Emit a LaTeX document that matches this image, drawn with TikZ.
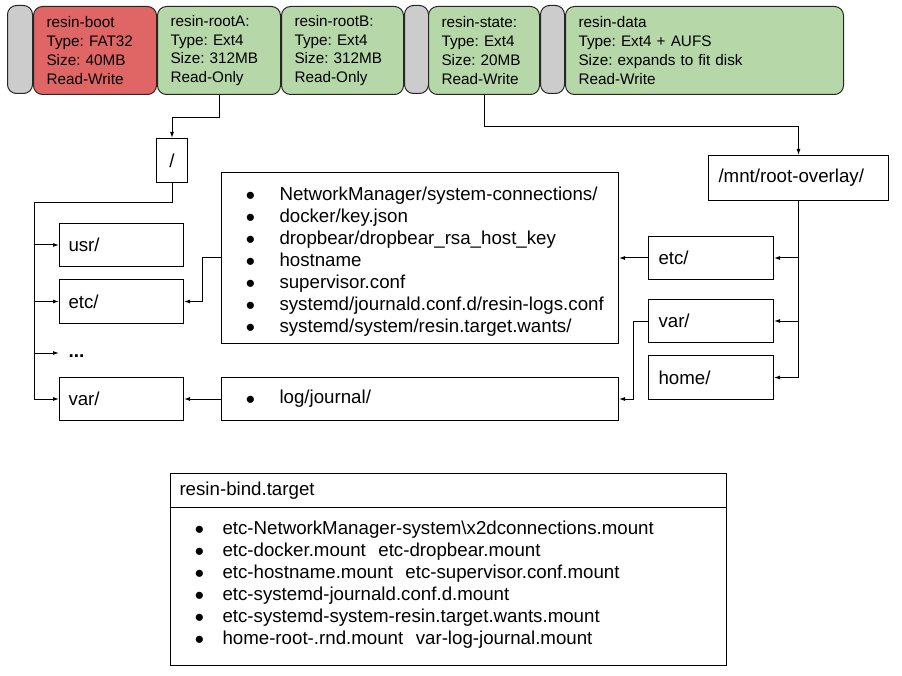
\documentclass[tikz,border=0pt]{standalone}
\usepackage{fontspec}
\setmainfont{Liberation Sans}
\usepackage{tikz}
\usetikzlibrary{arrows.meta}
\definecolor{bootred}{HTML}{E06666}
\definecolor{partgreen}{HTML}{B6D7A8}
\definecolor{gapgray}{HTML}{CCCCCC}
\frenchspacing
\newcommand{\partfont}{\fontsize{15.3pt}{18.8pt}\selectfont}
\newcommand{\dirfont}{\fontsize{18.7pt}{22pt}\selectfont}
\newcommand{\bul}[1]{\hspace*{24.4pt}\makebox[#1][l]{\raisebox{-4.5pt}[0pt][0pt]{\scalebox{1.4}{\textbullet}}}}

\begin{document}
\begin{tikzpicture}[x=1pt, y=-1pt, >={Latex[length=6pt,width=4pt]}, line width=1pt,
  part/.style={draw=black!85, rounded corners=9pt, anchor=north west, minimum height=88pt,
    inner xsep=13pt, inner ysep=0pt, align=left, font=\partfont},
  gap/.style={part, fill=gapgray, inner sep=0pt},
  dirbox/.style={draw, anchor=north west, inner xsep=9pt, inner ysep=0pt, align=left, font=\dirfont},
  listbox/.style={dirbox, inner xsep=0pt}]

  \useasboundingbox (0,0) rectangle (902,676);

  % Particoes
  \node[gap, minimum width=25pt] (gapA) at (7,5) {};
  \node[part, fill=bootred, text width=97pt] (boot) at (33,6) {resin-boot\\Type: FAT32\\Size: 40MB\\Read-Write};
  \node[part, fill=partgreen, text width=97pt] (rootA) at (157,6) {resin-rootA:\\Type: Ext4\\Size: 312MB\\Read-Only};
  \node[part, fill=partgreen, text width=96pt] (rootB) at (281,6) {resin-rootB:\\Type: Ext4\\Size: 312MB\\Read-Only};
  \node[gap, minimum width=24pt] (gapB) at (404,5) {};
  \node[part, fill=partgreen, text width=85pt] (state) at (428,6) {resin-state:\\Type: Ext4\\Size: 20MB\\Read-Write};
  \node[gap, minimum width=24pt] (gapC) at (540,5) {};
  \node[part, fill=partgreen, text width=252pt] (data) at (565,6) {resin-data\\Type: Ext4 + AUFS\\Size: expands to fit disk\\Read-Write};

  % Arvore da raiz
  \node[dirbox, align=center, text width=13pt, minimum height=44pt] (slash) at (156,138) {/};
  \node[dirbox, text width=106pt, minimum height=43pt] (usr) at (59,223) {usr/};
  \node[dirbox, text width=106pt, minimum height=44pt] (etcL) at (59,279) {etc/};
  \node[anchor=west, inner xsep=9pt, font=\fontsize{19pt}{19pt}\selectfont\bfseries,
    text height=8pt, text depth=0pt] (dots) at (59,353) {...};
  \node[dirbox, text width=106pt, minimum height=43pt] (varL) at (59,377) {var/};

  % Arquivos ligados
  \node[listbox, text width=397pt, minimum height=171pt] (etcfiles) at (221,172) {%
    \rule{0pt}{20pt}\bul{33.6pt}NetworkManager/system-connections/\\
    \bul{33.6pt}docker/key.json\\
    \bul{33.6pt}dropbear/dropbear\_rsa\_host\_key\\
    \bul{33.6pt}hostname\\
    \bul{33.6pt}supervisor.conf\\
    \bul{33.6pt}systemd/journald.conf.d/resin-logs.conf\\
    \bul{33.6pt}systemd/system/resin.target.wants/};
  \node[listbox, text width=397pt, minimum height=43pt] (logdir) at (221,377) {\bul{33.6pt}log/journal/};

  % Overlay
  \node[dirbox, inner xsep=10pt, text width=160pt, minimum height=45pt] (rootov) at (708,155) {/mnt/root-overlay/};
  \node[dirbox, inner xsep=10pt, text width=105pt, minimum height=43pt] (etcR) at (648,236) {etc/};
  \node[dirbox, inner xsep=10pt, text width=105pt, minimum height=43pt] (varR) at (648,299) {var/};
  \node[dirbox, inner xsep=10pt, text width=105pt, minimum height=44pt] (homeR) at (648,355) {home/};

  % Alvo do systemd
  \node[dirbox, text width=538pt, minimum height=34pt] (bindhead) at (170,473) {resin-bind.target};
  \node[listbox, text width=556pt, minimum height=158pt] (bindlist) at (170,507) {%
    \bul{27.6pt}etc-NetworkManager-system\textbackslash x2dconnections.mount\\
    \bul{27.6pt}etc-docker.mount\ \ etc-dropbear.mount\\
    \bul{27.6pt}etc-hostname.mount\ \ etc-supervisor.conf.mount\\
    \bul{27.6pt}etc-systemd-journald.conf.d.mount\\
    \bul{27.6pt}etc-systemd-system-resin.target.wants.mount\\
    \bul{27.6pt}home-root-.rnd.mount\ \ var-log-journal.mount\rule[-8pt]{0pt}{8pt}};

  % Ligacoes
  \draw[->] (rootA.south) -- ++(0,23) -| (slash.north);
  \draw[->] (state.south) -- ++(0,32) -| (rootov.north);
  \draw[->] (slash.south) -- ++(0,20) -| ([xshift=-25pt]varL.west) -- (varL.west);
  \foreach \n in {usr,etcL,dots} \draw[->] ([xshift=-25pt]\n.west) -- (\n.west);
  \draw[->] (etcfiles.west) -- ++(-19,0) |- (etcL.east);
  \draw[->] (logdir.west) -- (varL.east);
  \draw[->] (rootov.south) |- (homeR.east);
  \foreach \n in {etcR,varR} \draw[->] (rootov.south |- \n.east) -- (\n.east);
  \draw[->] (etcR.west) -- (etcfiles.east);
  \draw[->] (varR.west) -- ++(-15,0) |- (logdir.east);

\end{tikzpicture}
\end{document}
